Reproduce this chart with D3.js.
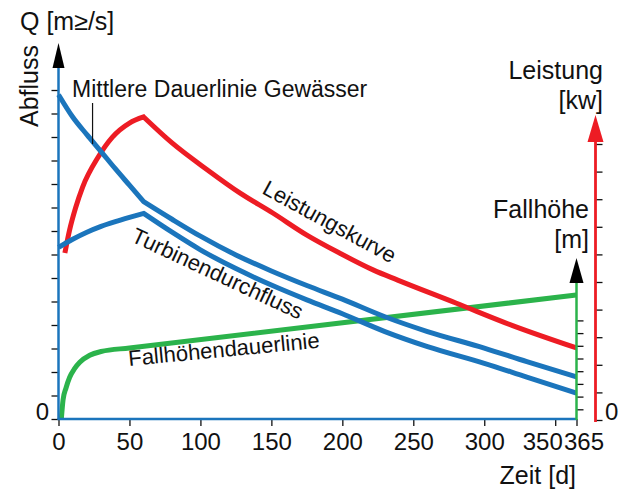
<!DOCTYPE html>
<html>
<head>
<meta charset="utf-8">
<script src="https://d3js.org/d3.v7.min.js"></script>
<style>
  body { margin: 0; background: #fff; }
  text { font-family: "Liberation Sans", Arial, sans-serif; fill: #111; }
</style>
</head>
<body>
<svg width="627" height="491"></svg>
<script>
var svg = d3.select("svg");

var blue = "#1b75bc", red = "#ed1c24", green = "#2bb34b";

// x ticks (days)
var dayTicks = [0, 50, 100, 150, 200, 250, 300, 350, 365];

// Mittlere Dauerlinie Gewässer (Q), split at day 60
var flowDays = [0, 10, 20, 30, 40, 50, 60, 80, 100, 125, 150, 175, 200, 230, 260, 300, 330, 365];
var flowVals = [13.8, 12.85, 12.1, 11.38, 10.65, 9.95, 9.25, 8.5, 7.78, 6.98, 6.3, 5.68, 5.1, 4.35, 3.72, 3.02, 2.44, 1.79];

// Turbinendurchfluss (Q)
var turbDays = [0, 10, 20, 30, 40, 50, 60, 80, 100, 125, 150, 175, 200, 230, 260, 300, 330, 365];
var turbVals = [7.3, 7.65, 7.95, 8.2, 8.4, 8.58, 8.75, 7.95, 7.2, 6.4, 5.7, 5.07, 4.48, 3.72, 3.08, 2.37, 1.78, 1.1];

// Leistungskurve (kW)
var powerDays = [4.5, 7.8, 12, 17, 28, 38, 50, 60, 80, 105, 128, 151, 175, 198, 222, 239, 280, 320, 365];
var powerVals = [6.05, 6.88, 7.68, 8.44, 9.53, 10.25, 10.76, 10.98, 10.04, 9.06, 8.22, 7.5, 6.7, 6.05, 5.43, 5.07, 4.24, 3.42, 2.61];

// Fallhöhendauerlinie (m)
var headDays = [2, 3.2, 5.3, 7.8, 11.3, 15, 22, 30, 50, 365];
var headVals = [0.24, 1.73, 2.68, 3.5, 4.2, 4.7, 5.25, 5.55, 5.83, 10.0];

var x = d3.scaleLinear().domain([0, 365]).range([58.5, 576.5]);
var yQ = d3.scaleLinear().domain([0, 15]).range([419, 66.5]);
var yP = d3.scaleLinear().domain([0, 10]).range([420, 144]);
var yH = d3.scaleLinear().domain([0, 10]).range([422, 295]);

function pts(days, vals) {
  return days.map(function(d, i) { return [d, vals[i]]; });
}

// draws a curve that may have a corner at day 60
function curvePath(days, vals, y, kink) {
  var line = d3.line()
    .x(function(d) { return x(d[0]); })
    .y(function(d) { return y(d[1]); })
    .curve(d3.curveMonotoneX);
  var p = pts(days, vals);
  if (kink == null) return line(p);
  var a = p.filter(function(d) { return d[0] <= kink; });
  var b = p.filter(function(d) { return d[0] >= kink; });
  return line(a) + line(b).replace(/^M/, "L");
}

var curves = svg.append("g").attr("fill", "none").attr("stroke-width", 5);

curves.append("path").attr("d", curvePath(headDays, headVals, yH)).attr("stroke", green);
curves.append("path").attr("d", curvePath(powerDays, powerVals, yP, 60)).attr("stroke", red);
curves.append("path").attr("d", curvePath(flowDays, flowVals, yQ, 60)).attr("stroke", blue);
curves.append("path").attr("d", curvePath(turbDays, turbVals, yQ, 60)).attr("stroke", blue);

// x axis
var xa = svg.append("g").attr("transform", "translate(0,419)")
  .call(d3.axisBottom(x).tickValues(dayTicks).tickSize(7).tickPadding(7).tickSizeOuter(0));
xa.select(".domain").remove();
xa.selectAll(".tick line").attr("stroke", "#111").attr("stroke-width", 1.3);
xa.selectAll(".tick text").attr("font-size", 24).attr("font-family", "Liberation Sans, Arial, sans-serif")
  .attr("fill", "#111")
  .attr("dx", function(d) { return d == 350 ? -13 : d == 365 ? 7 : 0; });
svg.append("line").attr("x1", 57.5).attr("x2", 577).attr("y1", 419).attr("y2", 419)
  .attr("stroke", blue).attr("stroke-width", 2.5);

// left axis (Abfluss)
var la = svg.append("g").attr("transform", "translate(58.5,0)")
  .call(d3.axisLeft(yQ).tickValues(d3.range(0, 15)).tickSize(7).tickFormat(""));
la.select(".domain").remove();
la.selectAll(".tick line").attr("stroke", "#111").attr("stroke-width", 1.3);
svg.append("line").attr("x1", 58.5).attr("x2", 58.5).attr("y1", 420).attr("y2", 66)
  .attr("stroke", blue).attr("stroke-width", 2.5);
svg.append("path").attr("d", "M58.5,43L64.5,68L52.5,68Z").attr("fill", "#000");

// green axis (Fallhöhe)
var ga = svg.append("g").attr("transform", "translate(576.5,0)")
  .call(d3.axisRight(yH).tickValues(d3.range(1, 9)).tickSize(7).tickFormat(""));
ga.select(".domain").remove();
ga.selectAll(".tick line").attr("stroke", "#111").attr("stroke-width", 1.3);
svg.append("line").attr("x1", 576.5).attr("x2", 576.5).attr("y1", 420).attr("y2", 281)
  .attr("stroke", green).attr("stroke-width", 2.5);
svg.append("path").attr("d", "M576.5,258L583.5,283L569.5,283Z").attr("fill", "#000");

// red axis (Leistung)
var ra = svg.append("g").attr("transform", "translate(595.5,0)")
  .call(d3.axisRight(yP).tickValues(d3.range(0, 11)).tickSize(7).tickFormat(""));
ra.select(".domain").remove();
ra.selectAll(".tick line").attr("stroke", "#111").attr("stroke-width", 1.3);
svg.append("line").attr("x1", 595.5).attr("x2", 595.5).attr("y1", 422).attr("y2", 140)
  .attr("stroke", red).attr("stroke-width", 2.8);
svg.append("path").attr("d", "M595.5,115L603.5,142L587.5,142Z").attr("fill", red);

// axis titles
svg.append("text").attr("x", 20).attr("y", 30).attr("font-size", 25).text("Q [m≥/s]");
svg.append("text").attr("transform", "translate(38,127) rotate(-90)").attr("font-size", 25).text("Abfluss");
svg.append("text").attr("x", 49).attr("y", 420).attr("font-size", 24).attr("text-anchor", "end").text("0");
svg.append("text").attr("x", 605).attr("y", 420).attr("font-size", 24).text("0");
svg.append("text").attr("x", 576).attr("y", 484).attr("font-size", 25).attr("text-anchor", "end").text("Zeit [d]");
svg.append("text").attr("x", 603).attr("y", 79).attr("font-size", 25).attr("text-anchor", "end").text("Leistung");
svg.append("text").attr("x", 603).attr("y", 109).attr("font-size", 25).attr("text-anchor", "end").text("[kw]");
svg.append("text").attr("x", 589).attr("y", 218).attr("font-size", 25).attr("text-anchor", "end").text("Fallhöhe");
svg.append("text").attr("x", 589).attr("y", 248).attr("font-size", 25).attr("text-anchor", "end").text("[m]");

// curve labels
svg.append("text").attr("x", 72).attr("y", 97).attr("font-size", 23).text("Mittlere Dauerlinie Gewässer");
svg.append("line").attr("x1", x(24)).attr("x2", x(24)).attr("y1", 103).attr("y2", yQ(11.7))
  .attr("stroke", "#111").attr("stroke-width", 1.2);
svg.append("text").attr("transform", "translate(261,193) rotate(28.5)").attr("font-size", 22).text("Leistungskurve");
svg.append("text").attr("transform", "translate(130,241) rotate(25)").attr("font-size", 22).text("Turbinendurchfluss");
svg.append("text").attr("transform", "translate(129,366) rotate(-5.5)").attr("font-size", 22).text("Fallhöhendauerlinie");
</script>
</body>
</html>
